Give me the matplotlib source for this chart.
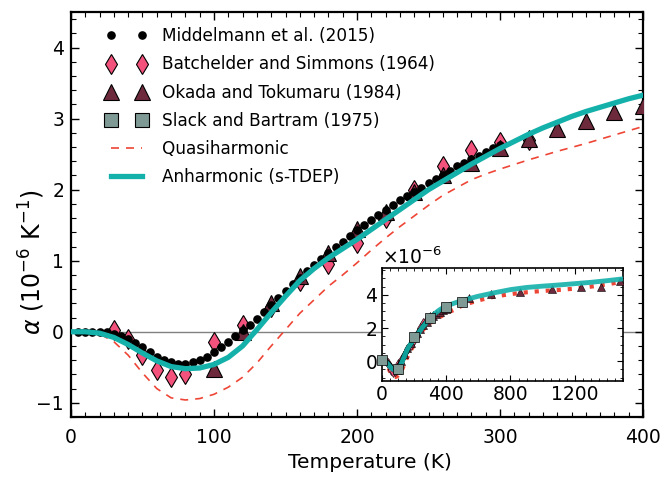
import matplotlib
matplotlib.use("Agg")
import matplotlib.pyplot as plt
from matplotlib.ticker import MultipleLocator
from matplotlib.lines import Line2D

plt.rcParams['font.family'] = ['DejaVu Sans']
plt.rcParams['mathtext.fontset'] = 'dejavusans'
plt.rcParams['axes.unicode_minus'] = True

# Middelmann et al. (2015), black dots
mid_T = [5, 10, 15, 20, 25, 30, 35, 40, 45, 50, 55, 60, 65, 70, 75, 80, 85, 90, 95, 100,
         105, 110, 115, 120, 125, 130, 135, 140, 145, 150, 155, 160, 165, 170, 175, 180,
         185, 190, 195, 200, 205, 210, 215, 220, 225, 230, 235, 240, 245, 250, 255, 260,
         265, 270, 275, 280, 285, 290, 295, 300]
mid_a = [0.00, 0.00, 0.00, -0.01, -0.01, -0.03, -0.06, -0.10, -0.16, -0.22, -0.29, -0.35,
         -0.40, -0.43, -0.45, -0.45, -0.43, -0.40, -0.35, -0.29, -0.22, -0.14, -0.06, 0.02,
         0.10, 0.18, 0.28, 0.38, 0.48, 0.58, 0.67, 0.76, 0.85, 0.94, 1.03, 1.11, 1.19, 1.27,
         1.35, 1.43, 1.50, 1.57, 1.64, 1.71, 1.78, 1.85, 1.91, 1.97, 2.03, 2.09, 2.15, 2.21,
         2.27, 2.33, 2.38, 2.43, 2.48, 2.53, 2.58, 2.63]

# Batchelder and Simmons (1964), diamonds
bs_T = [30, 40, 50, 60, 70, 80, 100, 120, 140, 160, 180, 200, 220, 240, 260, 280, 300, 320]
bs_a = [0.02, -0.10, -0.33, -0.54, -0.63, -0.59, -0.14, 0.09, 0.35, 0.72, 0.95, 1.25,
        1.60, 2.00, 2.33, 2.56, 2.67, 2.70]

# Okada and Tokumaru (1984), triangles
ok_T = [100, 120, 140, 160, 180, 200, 220, 240, 260, 280, 300, 320, 340, 360, 380, 400,
        540, 680, 860, 1060, 1240, 1360, 1480]
ok_a = [-0.52, 0.00, 0.41, 0.79, 1.11, 1.44, 1.69, 1.97, 2.20, 2.38, 2.58, 2.72, 2.86,
        2.97, 3.09, 3.18, 3.80, 4.05, 4.20, 4.35, 4.48, 4.50, 4.85]

# Slack and Bartram (1975), squares
sb_T = [0, 100, 200, 300, 400, 500]
sb_a = [0.05, -0.45, 1.45, 2.58, 3.25, 3.60]

# quasiharmonic
qh_T = [0, 10, 20, 30, 40, 50, 60, 70, 80, 90, 100, 110, 120, 130, 140, 150, 160, 170,
        180, 190, 200, 210, 220, 230, 240, 250, 260, 270, 280, 290, 300, 320, 340, 360,
        380, 400, 450, 500, 600, 700, 800, 900, 1000, 1100, 1200, 1300, 1400, 1500]
qh_a = [0.0, 0.0, -0.03, -0.14, -0.33, -0.58, -0.80, -0.93, -0.96, -0.94, -0.88, -0.78,
        -0.64, -0.44, -0.20, 0.03, 0.26, 0.45, 0.64, 0.80, 0.97, 1.15, 1.32, 1.48, 1.63,
        1.78, 1.92, 2.03, 2.14, 2.22, 2.29, 2.42, 2.54, 2.65, 2.77, 2.89, 3.10, 3.36,
        3.67, 3.90, 4.05, 4.16, 4.24, 4.30, 4.38, 4.50, 4.64, 4.80]

# anharmonic (s-TDEP)
an_T = [0, 10, 20, 30, 40, 50, 60, 70, 80, 90, 100, 110, 120, 130, 140, 150, 160, 170,
        180, 190, 200, 210, 220, 230, 240, 250, 260, 270, 280, 290, 300, 310, 320, 330,
        340, 350, 360, 370, 380, 390, 400, 450, 500, 600, 700, 800, 900, 1000, 1100,
        1200, 1300, 1400, 1500]
an_a = [0.0, 0.0, -0.02, -0.08, -0.18, -0.30, -0.41, -0.49, -0.52, -0.51, -0.46, -0.36,
        -0.20, 0.03, 0.27, 0.50, 0.72, 0.89, 1.04, 1.17, 1.30, 1.44, 1.58, 1.72, 1.86,
        2.00, 2.12, 2.24, 2.36, 2.47, 2.58, 2.68, 2.78, 2.87, 2.95, 3.03, 3.10, 3.16,
        3.22, 3.28, 3.33, 3.50, 3.66, 3.92, 4.13, 4.32, 4.45, 4.53, 4.60, 4.68, 4.76,
        4.86, 4.97]

c_teal = '#14b1ab'
c_qh = '#ee4636'
c_pink = '#f2527c'
c_maroon = '#6e2a3d'
c_gray = '#7f9995'

fig = plt.figure(figsize=(6.66, 4.83), dpi=100)
ax = fig.add_axes([0.1066, 0.1366, 0.8589, 0.8384])

ax.axhline(0, color='gray', lw=1.0, zorder=1)
ax.plot(bs_T, bs_a, 'd', ms=10, mfc=c_pink, mec='k', mew=0.8, ls='none', zorder=2,
        label='Batchelder and Simmons (1964)')
ax.plot(ok_T, ok_a, '^', ms=11, mfc=c_maroon, mec='k', mew=0.8, ls='none', zorder=3,
        label='Okada and Tokumaru (1984)')
ax.plot(mid_T, mid_a, 'o', ms=5.2, color='k', ls='none', zorder=4,
        label='Middelmann et al. (2015)')
ax.plot(qh_T, qh_a, color=c_qh, lw=1.2, dashes=(4.8, 4.2), zorder=5, label='Quasiharmonic')
ax.plot(an_T, an_a, color=c_teal, lw=3.8, zorder=6, label='Anharmonic (s-TDEP)')

ax.set_xlim(0, 400)
ax.set_ylim(-1.2, 4.5)
ax.xaxis.set_major_locator(MultipleLocator(100))
ax.xaxis.set_minor_locator(MultipleLocator(10))
ax.yaxis.set_major_locator(MultipleLocator(1))
ax.yaxis.set_minor_locator(MultipleLocator(0.2))
ax.tick_params(which='both', direction='in', top=True, right=True, labelsize=13.5)
ax.tick_params(which='major', length=6, width=1.0, pad=5)
ax.tick_params(axis='x', which='major', pad=8)
ax.tick_params(which='minor', length=3.5, width=0.8)
for s in ax.spines.values():
    s.set_linewidth(1.6)
ax.set_xlabel('Temperature (K)', fontsize=14.5)
ax.xaxis.set_label_coords(0.523, -0.088)
ax.set_ylabel(r'$\alpha\ (10^{-6}\ \mathrm{K}^{-1})$', fontsize=17)
ax.yaxis.set_label_coords(-0.042, 0.383)

# legend in the original order
h = {l.get_label(): l for l in ax.get_lines()}
sq = Line2D([], [], marker='s', ms=10, mfc=c_gray, mec='k', mew=0.8, ls='none',
            label='Slack and Bartram (1975)')
order = ['Middelmann et al. (2015)', 'Batchelder and Simmons (1964)',
         'Okada and Tokumaru (1984)']
handles = [h[k] for k in order] + [sq, h['Quasiharmonic'], h['Anharmonic (s-TDEP)']]
ax.legend(handles=handles, loc='upper left', bbox_to_anchor=(0.035, 1.0), frameon=False,
          fontsize=12.2, numpoints=2, handlelength=2.4, handletextpad=0.9,
          labelspacing=0.6)

# inset
ins = fig.add_axes([0.573, 0.211, 0.3628, 0.2333])
ins.plot(qh_T, [v * 1e-6 for v in qh_a], color=c_qh, lw=3, ls=':', zorder=2)
ins.plot(bs_T, [v * 1e-6 for v in bs_a], 'd', ms=5, mfc=c_pink, mec='k', mew=0.4,
         ls='none', zorder=3)
ins.plot(ok_T, [v * 1e-6 for v in ok_a], '^', ms=6, mfc=c_maroon, mec='k', mew=0.4,
         ls='none', zorder=4)
ins.plot(mid_T, [v * 1e-6 for v in mid_a], 'o', ms=2.5, color='k', ls='none', zorder=4)
ins.plot(an_T, [v * 1e-6 for v in an_a], color=c_teal, lw=3.5, zorder=5, alpha=0.9)
ins.plot(sb_T, [v * 1e-6 for v in sb_a], 's', ms=7, mfc=c_gray, mec='k', mew=0.5,
         ls='none', zorder=6, clip_on=False)
ins.set_xlim(0, 1500)
ins.set_ylim(-1.2e-6, 5.6e-6)
ins.xaxis.set_major_locator(MultipleLocator(400))
ins.xaxis.set_minor_locator(MultipleLocator(50))
ins.yaxis.set_major_locator(MultipleLocator(2e-6))
ins.yaxis.set_minor_locator(MultipleLocator(0.5e-6))
ins.ticklabel_format(axis='y', style='sci', scilimits=(0, 0), useMathText=True)
ins.yaxis.get_offset_text().set_fontsize(13.5)
ins.tick_params(which='both', direction='in', top=True, right=True, labelsize=13.5, pad=3)
ins.tick_params(which='major', length=4, width=0.8)
ins.tick_params(which='minor', length=2, width=0.6)
for s in ins.spines.values():
    s.set_linewidth(1.2)

fig.savefig('out.png', dpi=100)
